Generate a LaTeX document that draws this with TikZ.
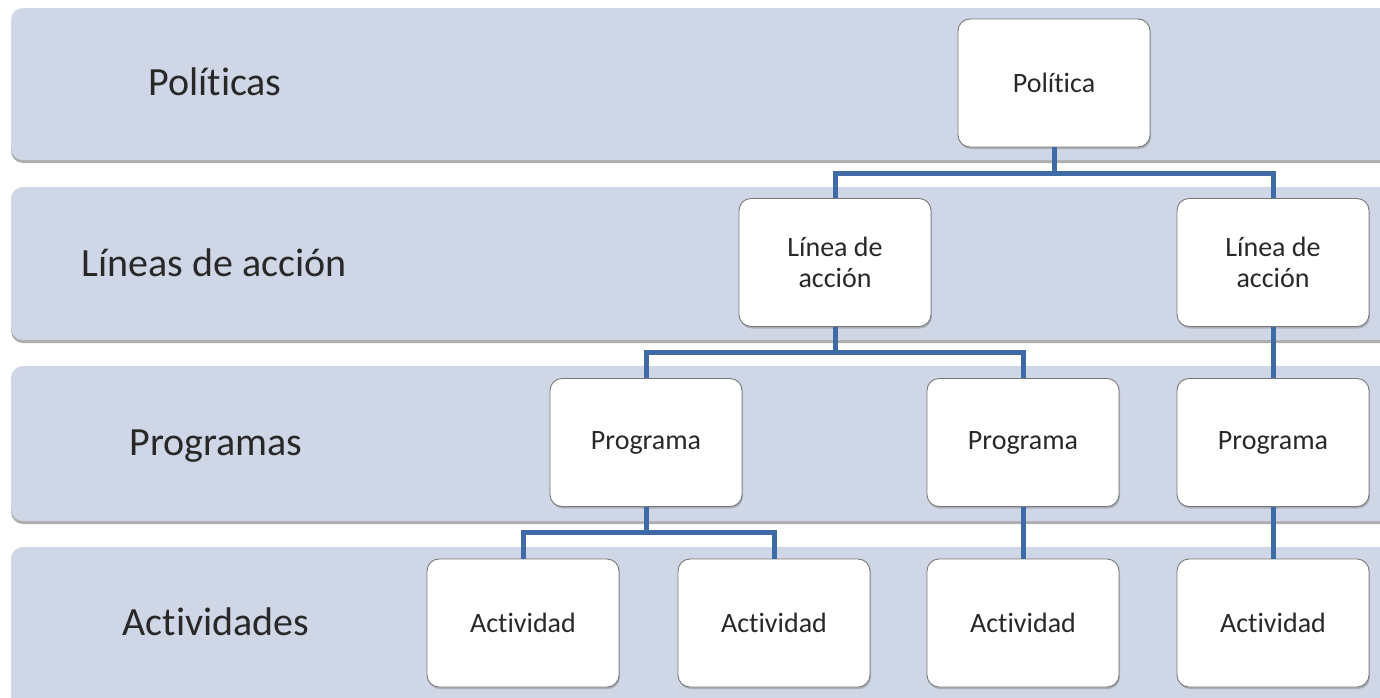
\documentclass[tikz,border=0pt]{standalone}
\usepackage{fontspec}
\setmainfont[Ligatures=CommonOff]{Carlito}
\usetikzlibrary{shadows}
\definecolor{bandc}{RGB}{207,214,230}
\definecolor{connc}{RGB}{62,106,166}
\definecolor{boxline}{RGB}{120,120,120}
\definecolor{txtc}{RGB}{40,40,40}
\tikzset{
  band/.style={fill=bandc, rounded corners=12pt,
    drop shadow={shadow xshift=0pt, shadow yshift=-3pt, opacity=.45, fill=black!70}},
  bandlabel/.style={anchor=base, text=txtc, font=\fontsize{40}{48}\selectfont, inner sep=0pt},
  orgbox/.style={draw=boxline, line width=0.9pt, fill=white, rounded corners=12pt,
    minimum width=192pt, minimum height=128pt, align=center, text=txtc,
    font=\fontsize{28}{31}\selectfont,
    drop shadow={shadow xshift=1pt, shadow yshift=-2pt, opacity=.35, fill=black!60}},
  conn/.style={draw=connc, line width=5pt, line join=miter}
}
\begin{document}
\begin{tikzpicture}[x=1pt, y=-1pt]
\clip (0,0) rectangle (1380,697);
\fill[white] (0,0) rectangle (1380,697);
% bands
\path[band] (11,8) rectangle (1400,160);
\path[band] (11,187) rectangle (1400,340);
\path[band] (11,366) rectangle (1400,521);
\path[band] (11,547) rectangle (1400,720);
% band labels
\node[bandlabel] (lp) at (215,95) {Políticas};
\node[bandlabel] (ll) at (214,276) {Líneas de acción};
\node[bandlabel] (lg) at (216,455) {Programas};
\node[bandlabel] (la) at (216,635) {Actividades};
% boxes
\node[orgbox] (pol) at (1054,83) {Política};
\node[orgbox] (lin1) at (835,262.5) {Línea de\\acción};
\node[orgbox] (lin2) at (1273,262.5) {Línea de\\acción};
\node[orgbox] (prog1) at (646,442.5) {Programa};
\node[orgbox] (prog2) at (1023,442.5) {Programa};
\node[orgbox] (prog3) at (1273,442.5) {Programa};
\node[orgbox] (act1) at (523,623) {Actividad};
\node[orgbox] (act2) at (774,623) {Actividad};
\node[orgbox] (act3) at (1023,623) {Actividad};
\node[orgbox] (act4) at (1273,623) {Actividad};
% connectors
\draw[conn] (pol.south) -- ++(0,26) -| (lin1.north);
\draw[conn] (pol.south) -- ++(0,26) -| (lin2.north);
\draw[conn] (lin1.south) -- ++(0,26) -| (prog1.north);
\draw[conn] (lin1.south) -- ++(0,26) -| (prog2.north);
\draw[conn] (lin2.south) -- (prog3.north);
\draw[conn] (prog1.south) -- ++(0,26) -| (act1.north);
\draw[conn] (prog1.south) -- ++(0,26) -| (act2.north);
\draw[conn] (prog2.south) -- (act3.north);
\draw[conn] (prog3.south) -- (act4.north);
\end{tikzpicture}
\end{document}
